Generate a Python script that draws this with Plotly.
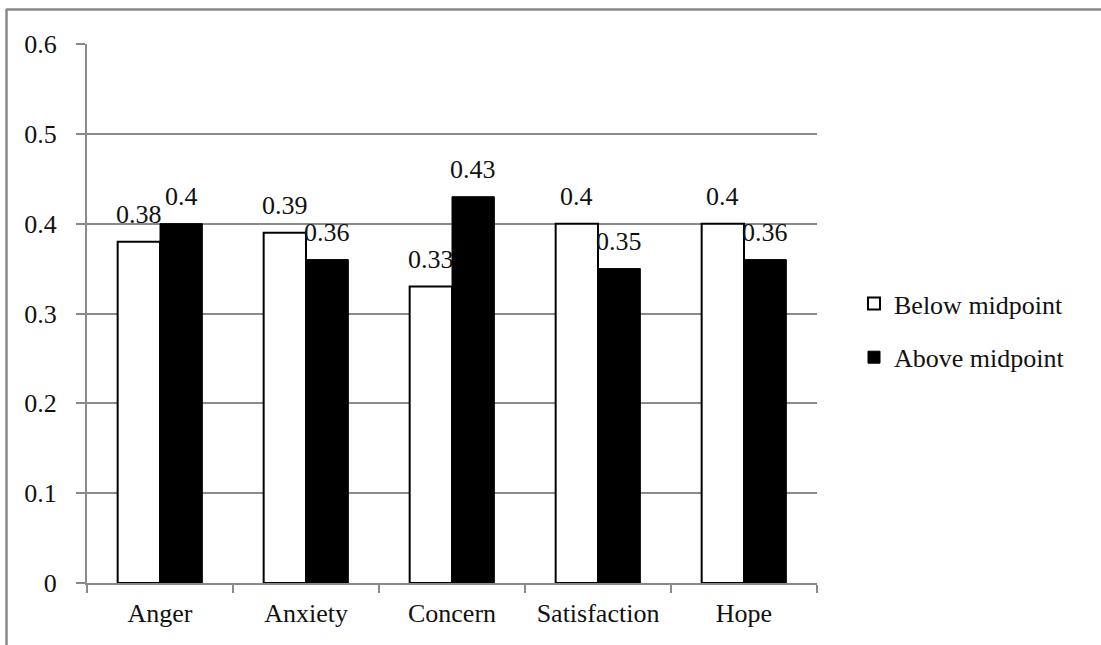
import plotly.graph_objects as go

categories = ["Anger", "Anxiety", "Concern", "Satisfaction", "Hope"]
below_midpoint = [0.38, 0.39, 0.33, 0.40, 0.40]
above_midpoint = [0.40, 0.36, 0.43, 0.35, 0.36]
series_names = ["Below midpoint", "Above midpoint"]
y_ticks = [0, 0.1, 0.2, 0.3, 0.4, 0.5, 0.6]

W, H = 1101, 645
L, R, T, B = 87, 284, 44, 62
FONT = "Liberation Serif"
FSIZE = 26
GRID = "#8a8a8a"
BARGAP = 0.42

fig = go.Figure()
fig.add_trace(go.Bar(
    x=categories, y=below_midpoint, name=series_names[0],
    marker=dict(color="white", line=dict(color="black", width=2)),
    legendgroup="a",
))
fig.add_trace(go.Bar(
    x=categories, y=above_midpoint, name=series_names[1],
    marker=dict(color="black", line=dict(color="black", width=1)),
    legendgroup="b",
))

pw, ph = W - L - R, H - T - B
band = pw / len(categories)
half_bar = band * (1 - BARGAP) / 4


def px_x(x):
    return (x - L) / pw


def px_y(y):
    return (H - B - y) / ph


# value labels above each bar
annotations = []
for values, shift in ((below_midpoint, -half_bar), (above_midpoint, half_bar)):
    for cat, v in zip(categories, values):
        annotations.append(dict(
            x=cat, y=v, xref="x", yref="y", text=f"{v:g}", showarrow=False,
            xanchor="center", yanchor="bottom", xshift=shift, yshift=11,
            font=dict(family=FONT, size=FSIZE, color="#111111"),
        ))

frame = dict(color=GRID, width=2.5)
shapes = [
    dict(type="line", xref="paper", yref="paper",
         x0=px_x(6), x1=px_x(W + 2), y0=px_y(9.5), y1=px_y(9.5), line=frame),
    dict(type="line", xref="paper", yref="paper",
         x0=px_x(6.5), x1=px_x(6.5), y0=px_y(9), y1=px_y(H + 2), line=frame),
]

fig.update_layout(
    width=W, height=H,
    margin=dict(l=L, r=R, t=T, b=B),
    paper_bgcolor="white", plot_bgcolor="white",
    font=dict(family=FONT, size=FSIZE, color="#111111"),
    barmode="group", bargap=BARGAP, bargroupgap=0,
    shapes=shapes, annotations=annotations,
    legend=dict(x=px_x(854), y=px_y(280), xanchor="left", yanchor="top",
                traceorder="grouped", tracegroupgap=17,
                font=dict(family=FONT, size=FSIZE), itemwidth=30),
    xaxis=dict(
        type="category", showline=True, linecolor=GRID, linewidth=2,
        ticks="outside", tickson="boundaries", ticklen=8, tickcolor=GRID,
        tickwidth=2, showgrid=False, ticklabelstandoff=6,
    ),
    yaxis=dict(
        range=[0, 0.6], tickvals=y_ticks, ticktext=[f"{v:g}" for v in y_ticks],
        showline=True, linecolor=GRID, linewidth=2,
        ticks="outside", ticklen=9, tickcolor=GRID, tickwidth=2,
        showgrid=True, gridcolor=GRID, gridwidth=2, zeroline=False,
        ticklabelstandoff=14,
    ),
)

fig.write_html("out.html")
